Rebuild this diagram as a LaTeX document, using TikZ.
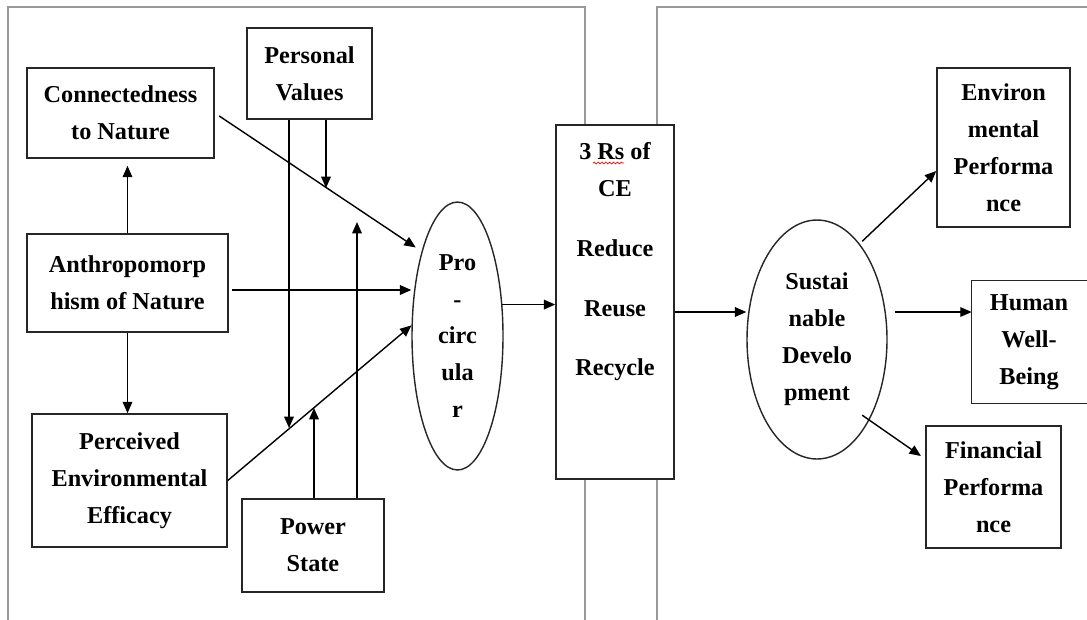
\documentclass[tikz,border=0pt]{standalone}
\usepackage{fontspec}
\setmainfont{Liberation Serif}
\usetikzlibrary{shapes.geometric,arrows.meta,decorations.pathmorphing}
\tikzset{
txt/.style={font=\fontsize{13.8}{21}\selectfont\bfseries, align=center, inner sep=0pt},
blk/.style={txt, draw=black!85, line width=0.9pt, fill=white},
oval/.style={txt, ellipse, draw=black!85, line width=0.8pt, fill=white},
arr/.style={-{Triangle[length=6.5pt,width=5.5pt]}, line width=0.8pt},
frame/.style={draw=black!40, line width=1.1pt}
}
\begin{document}
\begin{tikzpicture}[x=0.02cm, y=-0.02cm]
\path[clip] (0,0) rectangle (1087,619);
% FRAMES
\draw[frame] (8,630) -- (8,7) -- (585,7) -- (585,630);
\draw[frame] (657,630) -- (657,7) -- (1100,7);
% LEFT BLOCKS
\node[blk, minimum width=3.74cm, minimum height=1.8cm] at (120.5,113) (conn) {Connectedness\\to Nature};
\node[blk, minimum width=2.5cm, minimum height=1.82cm] at (309.5,73.5) (pers) {Personal\\Values};
\node[blk, minimum width=4.02cm, minimum height=1.96cm] at (127.5,283) (anthro) {Anthropomorp\\hism of Nature};
\node[blk, minimum width=3.9cm, minimum height=2.66cm] at (129.5,480.5) (perc) {Perceived\\Environmental\\Efficacy};
\node[blk, minimum width=2.84cm, minimum height=1.86cm] at (313,545.5) (power) {Power\\State};
% MIDDLE
\node[oval, minimum width=1.82cm, minimum height=5.36cm] at (457.5,336) (proc) {Pro\\-\\circ\\ula\\r};
\node[blk, minimum width=2.36cm, minimum height=7.08cm] at (615,302) (ce) {};
\node[txt, anchor=north, yshift=-0.36cm] at (ce.north) (celabel) {3 Rs of\\CE\\[13pt]Reduce\\[13pt]Reuse\\[13pt]Recycle};
\draw[red, line width=0.4pt, decorate, decoration={snake, amplitude=0.5pt, segment length=2.2pt}] (593,163) -- (624,163);
% RIGHT
\node[oval, minimum width=2.8cm, minimum height=4.78cm] at (817,339.5) (sust) {Sustai\\nable\\Develo\\pment};
\node[blk, minimum width=2.66cm, minimum height=3.18cm] at (1003.5,147.5) (env) {Environ\\mental\\Performa\\nce};
\node[txt, minimum width=2.28cm, minimum height=2.44cm] at (1029,342) (human) {Human\\Well-\\Being};
\draw[draw=black!85, line width=0.9pt] (human.north west) rectangle ([xshift=0.5cm]human.south east);
\node[blk, minimum width=2.7cm, minimum height=2.44cm] at (993.5,487) (fin) {Financial\\Performa\\nce};
% ARROWS
\draw[arr, shorten >=4pt] (anthro.north) -- (anthro.north |- conn.south);
\draw[arr] (anthro.south) -- (anthro.south |- perc.north);
\draw[arr, shorten <=3pt, shorten >=4pt] (conn.east) -- (proc.113);
\draw[arr, shorten <=2pt] ([yshift=-0.14cm]anthro.east) -- ([yshift=-0.14cm]anthro.east -| proc.west);
\draw[arr] (perc.east) -- (proc.167);
\coordinate (pv1) at (289,428);
\coordinate (pv2) at (326,188);
\coordinate (ps1) at (314,408);
\coordinate (ps2) at (357,222);
\draw[arr] (pers.south -| pv1) -- (pv1);
\draw[arr] (pers.south -| pv2) -- (pv2);
\draw[arr] (power.north -| ps1) -- (ps1);
\draw[arr] (power.north -| ps2) -- (ps2);
\draw[arr] (proc.35) -- (proc.35 -| ce.west);
\draw[arr] ([yshift=-0.2cm]ce.east) -- ([yshift=-0.2cm]ce.east -| sust.west);
\draw[arr, shorten <=2pt] (sust.66) -- ([yshift=-0.47cm]env.west);
\draw[arr, shorten <=4pt] ([yshift=0.6cm]human.west -| sust.east) -- ([yshift=0.6cm]human.west);
\draw[arr, shorten <=-5pt, shorten >=3pt] (sust.-57) -- ([yshift=0.56cm]fin.west);
\end{tikzpicture}
\end{document}
